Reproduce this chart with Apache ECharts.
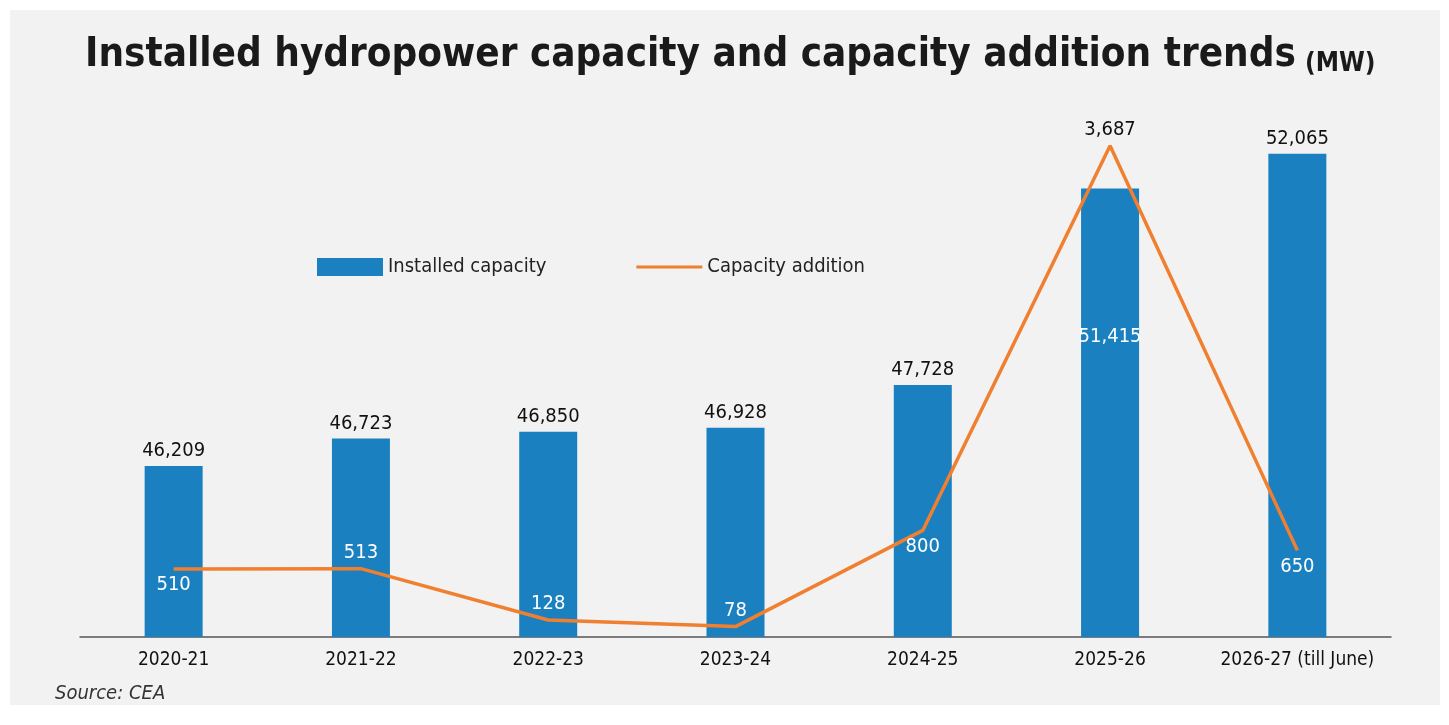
<!DOCTYPE html>
<html><head><meta charset="utf-8">
<script src="https://cdn.jsdelivr.net/npm/echarts@6/dist/echarts.min.js"></script>
<style>html,body{margin:0;background:#fff}#main{width:1449px;height:725px}</style>
</head><body><div id="main"></div>
<script>
var years = ['2020-21', '2021-22', '2022-23', '2023-24', '2024-25', '2025-26', '2026-27 (till June)'];
var installed = [46209, 46723, 46850, 46928, 47728, 51415, 52065];
var addition = [510, 513, 128, 78, 800, 3687, 650];
// where each addition label sits relative to its point
var addPos = ['bottom', 'top', 'top', 'top', 'bottom', 'top', 'bottom'];
var font = "'DejaVu Sans Condensed','Liberation Sans Narrow',sans-serif";

var myChart = echarts.init(document.getElementById('main'));
myChart.setOption({
    textStyle: { fontFamily: font },
    graphic: [
        { type: 'rect', z: -10, shape: { x: 10, y: 10, width: 1430, height: 695 }, style: { fill: '#f2f2f2' } },
        { type: 'text', left: 85, top: 36, style: { text: 'Installed hydropower capacity and capacity addition trends', fontFamily: font, fontWeight: 'bold', fontSize: 40, fill: '#1a1a1a' } },
        { type: 'text', left: 1305, top: 51, style: { text: '(MW)', fontFamily: font, fontWeight: 'bold', fontSize: 26, fill: '#1a1a1a' } },
        { type: 'text', left: 55, top: 684, style: { text: 'Source: CEA', fontFamily: font, fontStyle: 'italic', fontSize: 20, fill: '#333' } }
    ],
    legend: {
        left: 312, top: 252, itemGap: 90, itemWidth: 66, itemHeight: 18,
        textStyle: { fontSize: 20, color: '#222', fontFamily: font },
        data: [{ name: 'Installed capacity', icon: 'rect' }, { name: 'Capacity addition', icon: 'path://M0,0H66V3H0Z' }]
    },
    grid: { left: 80, right: 58, top: 104, bottom: 88 },
    xAxis: {
        type: 'category', data: years,
        axisLine: { lineStyle: { color: '#555', width: 1.5 } },
        axisTick: { show: false },
        axisLabel: { interval: 0, fontSize: 19, color: '#111', margin: 14 }
    },
    yAxis: [
        { type: 'value', min: 43000, max: 53000, show: false, splitLine: { show: false } },
        { type: 'value', min: 0, max: 4000, show: false, splitLine: { show: false } }
    ],
    series: [
        {
            name: 'Installed capacity', type: 'bar', barWidth: 58,
            itemStyle: { color: '#1a80c0' },
            label: { show: true, position: 'top', fontSize: 20, color: '#111', formatter: function (p) { return p.value.toLocaleString('en-US'); } },
            data: installed.map(function (v, i) {
                return i === 5 ? { value: v, label: { position: 'inside', color: '#fff', offset: [0, -76] } } : v;
            })
        },
        {
            name: 'Capacity addition', type: 'line', yAxisIndex: 1, symbol: 'circle', symbolSize: 0.1,
            lineStyle: { color: '#f07f2f', width: 3.5 }, itemStyle: { color: '#f07f2f' },
            label: { show: true, fontSize: 20, distance: 6, formatter: function (p) { return p.value.toLocaleString('en-US'); } },
            data: addition.map(function (v, i) {
                return { value: v, label: { position: addPos[i], color: i === 5 ? '#111' : '#fff' } };
            })
        }
    ]
});
</script></body></html>
